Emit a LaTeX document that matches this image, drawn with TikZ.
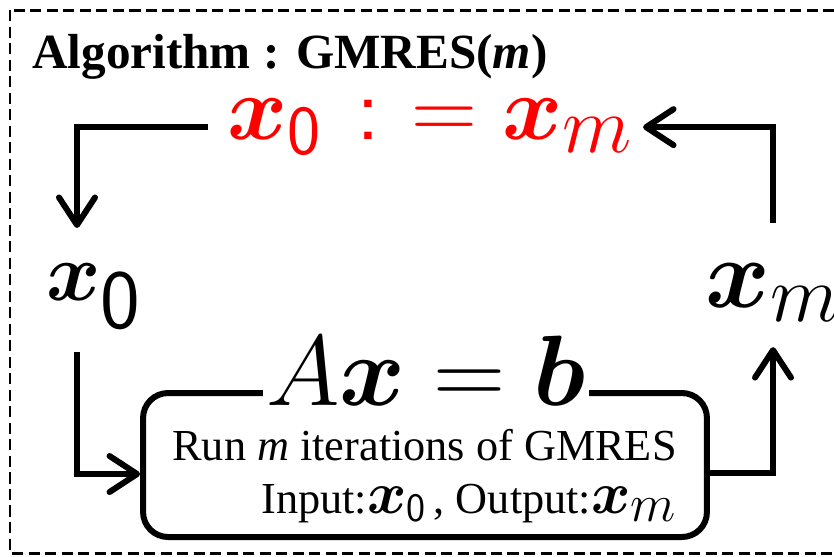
\RequirePackage{fix-cm}
\documentclass[tikz,border=0pt]{standalone}
\usepackage{amsmath,amssymb}
\usepackage{fontspec}
\setmainfont{Liberation Serif}
\usetikzlibrary{arrows.meta,positioning}
\definecolor{gmred}{RGB}{255,0,0}
\newcommand{\vx}{\boldsymbol{x}}
\newcommand{\subsz}[2]{_{\mbox{\fontsize{#1}{#1}\selectfont$#2$}}}

\begin{document}
\begin{tikzpicture}[x=0.02cm,y=-0.02cm,
  flow/.style={line width=0.12cm,-{Straight Barb[round,length=0.55cm,width=0.72cm]}},
  frame/.style={line width=0.06cm,dash pattern=on 6.3pt off 3.1pt},
  bigmath/.style={inner sep=0,font=\fontsize{#1}{60}\selectfont},
  gmbox/.style={draw,line width=0.12cm,rounded corners=0.5cm,minimum width=11.28cm,minimum height=2.88cm}]
  \useasboundingbox (0,0) rectangle (834,556);
  \draw[frame] (10,10) rectangle (870,553);
  \node[anchor=base west,inner sep=0,font=\fontsize{28}{34}\selectfont\bfseries] (title) at (32,68) {Algorithm : GMRES(\textit{m})};
  \node[bigmath=52,text=gmred,anchor=base] (upd) at (430,139) {$\vx\subsz{40}{\mathsf{0}}\mkern2mu\mathrel{\text{\sffamily:}\mkern6mu{=}}\vx\subsz{46}{m}$};
  \node[bigmath=47,anchor=base] (x0) at (94,300) {$\vx\subsz{48}{\mathsf{0}}$};
  \node[bigmath=56,anchor=base] (xm) at (773,307) {$\vx\subsz{46}{m}$};
  \node[gmbox] (gm) at (425,465) {};
  \node[bigmath=57,fill=white,inner xsep=0.06cm,anchor=base] (eq) at (426,405) {$A\vx=\boldsymbol{b}$};
  \node[anchor=base east,align=right,inner sep=0,font=\fontsize{25.2}{30}\selectfont] (gmtxt) at (677,513)
    {Run \textit{m} iterations of GMRES\\Input:{\fontsize{34}{30}\selectfont$\vx\subsz{23}{\mathsf{0}}$}\,, Output:{\fontsize{34}{30}\selectfont$\vx\subsz{30}{m}$}};
  \draw[flow,shorten <=0.38cm,shorten >=0.7cm] (upd.west) -| ([xshift=-0.34cm]x0.north);
  \draw[flow,shorten <=0.44cm] ([xshift=-0.34cm]x0.south) |- ([yshift=-0.18cm]gm.west);
  \draw[flow,shorten >=0.5cm] ([yshift=-0.16cm]gm.east) -| (xm.south);
  \draw[flow,shorten <=0.8cm,shorten >=0.2cm] (xm.north) |- (upd.east);
\end{tikzpicture}
\end{document}
